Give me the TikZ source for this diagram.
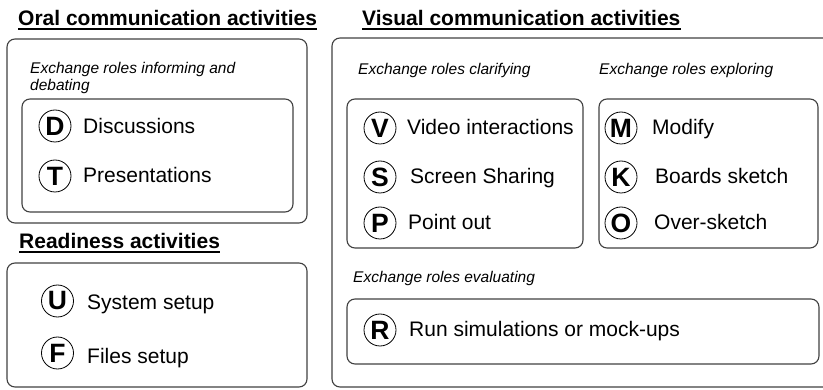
\documentclass[tikz,border=0pt]{standalone}
\usepackage{fontspec}
\setmainfont{Liberation Sans}
\begin{document}
\begin{tikzpicture}[x=1pt,y=-1pt,
  box/.style={draw=black!75, line width=1.1pt, rounded corners=8pt},
  ttl/.style={font=\fontsize{21}{25}\selectfont\bfseries, anchor=base west, inner sep=0pt},
  sub/.style={font=\fontsize{15.5}{17}\selectfont\itshape, anchor=base west, inner sep=0pt},
  lbl/.style={font=\fontsize{21}{25}\selectfont, anchor=base west, inner sep=0pt},
  badge/.style={circle, draw=black, line width=0.8pt, minimum size=32pt, inner sep=0pt, font=\fontsize{26.5}{26.5}\selectfont\bfseries},
  uline/.style={line width=1.6pt}
]
\useasboundingbox (0,0) rectangle (823,390);
% boxes
\draw[box] (7,39) rectangle (307,223);
\draw[box] (22,99) rectangle (293,212);
\draw[box] (7,263) rectangle (307,387);
\draw[box] (332,38) rectangle (845,387);
\draw[box] (347,99) rectangle (583,248);
\draw[box] (599,99) rectangle (818,248);
\draw[box] (347,299) rectangle (819,364);
% titles
\node[ttl] (t1) at (18,26) {Oral communication activities};
\node[ttl] (t2) at (362,26) {Visual communication activities};
\node[ttl] (t3) at (19,249) {Readiness activities};
\foreach \t in {t1,t2,t3}
  \draw[uline] ([yshift=-3pt]\t.base west) -- ([yshift=-3pt]\t.base east);
% sub captions
\node[sub] (s1) at (30,74) {Exchange roles informing and};
\node[sub] (s1b) at (30,91) {debating};
\node[sub] (s2) at (358,75) {Exchange roles clarifying};
\node[sub] (s3) at (599,75) {Exchange roles exploring};
\node[sub] (s4) at (353,283) {Exchange roles evaluating};
% badges and labels
\node[badge] (bD) at (55,126) {D};
\node[lbl] (lD) at (83,134) {Discussions};
\node[badge] (bT) at (55,176) {T};
\node[lbl] (lT) at (83,183) {Presentations};
\node[badge] (bU) at (57.5,301) {U};
\node[lbl] (lU) at (87,310) {System setup};
\node[badge] (bF) at (57.5,353) {F};
\node[lbl] (lF) at (87,363) {Files setup};
\node[badge] (bV) at (380,128) {V};
\node[lbl] (lV) at (407,135) {Video interactions};
\node[badge] (bS) at (380,177) {S};
\node[lbl] (lS) at (410,184) {Screen Sharing};
\node[badge] (bP) at (380,223) {P};
\node[lbl] (lP) at (408,230) {Point out};
\node[badge] (bM) at (621,128) {M};
\node[lbl] (lM) at (652,135) {Modify};
\node[badge] (bK) at (621,177) {K};
\node[lbl] (lK) at (655,184) {Boards sketch};
\node[badge] (bO) at (621,223) {O};
\node[lbl] (lO) at (654,230) {Over-sketch};
\node[badge] (bR) at (380,330) {R};
\node[lbl] (lR) at (409,337) {Run simulations or mock-ups};
\end{tikzpicture}
\end{document}
